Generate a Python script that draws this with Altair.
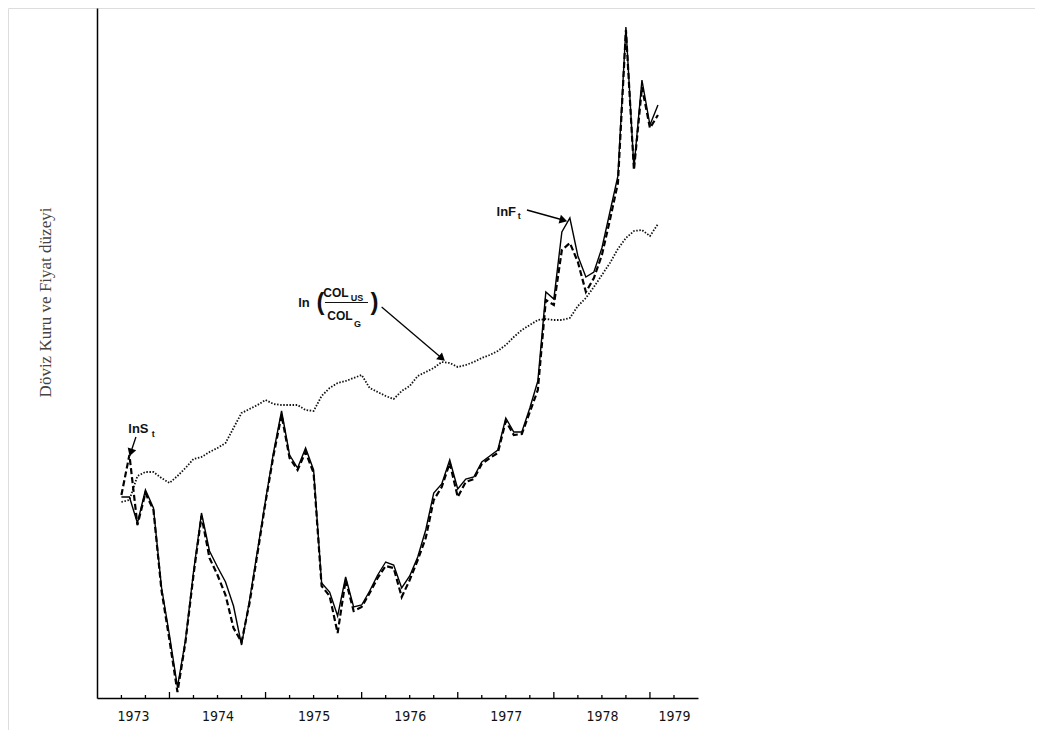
import altair as alt
import pandas as pd

# ---------------- data (monthly, from mid-1973) ----------------
start_year = 1973.5
n_months = 68

# ln F_t  (forward rate, solid line) - arbitrary log units
ln_f = [20.1, 20.1, 17.5, 20.8, 19.0, 11.1, 6.3, 1.1, 5.8, 12.6,
        18.5, 14.7, 13.1, 11.6, 9.2, 5.3, 9.8, 14.8, 19.8, 24.6,
        28.7, 24.3, 23.0, 25.0, 22.8, 11.5, 10.6, 8.2, 12.1, 9.1,
        9.3, 10.7, 12.3, 13.6, 13.3, 11.0, 12.2, 14.1, 16.8, 20.5,
        21.4, 23.8, 20.9, 21.9, 22.1, 23.6, 24.2, 24.8, 28.0, 26.6,
        26.6, 29.0, 31.7, 40.6, 39.9, 46.6, 48.0, 44.2, 42.1, 42.6,
        45.0, 48.6, 52.2, 67.1, 53.0, 61.8, 57.3, 59.3]

# ln S_t  (spot rate, dashed line)
ln_s = [20.3, 24.3, 17.3, 20.5, 18.8, 10.8, 5.8, 0.6, 5.6, 12.3,
        18.2, 14.0, 12.3, 10.3, 7.0, 5.6, 9.5, 14.5, 19.6, 24.3,
        28.3, 24.0, 22.8, 24.6, 22.5, 11.2, 10.2, 6.5, 11.8, 8.7,
        9.1, 10.5, 12.0, 13.2, 13.0, 10.1, 11.8, 13.8, 16.0, 19.8,
        21.1, 23.5, 20.1, 21.6, 21.9, 23.4, 24.0, 24.5, 27.7, 26.3,
        26.4, 28.6, 30.8, 39.8, 39.3, 44.8, 45.5, 43.6, 40.6, 42.0,
        44.3, 47.8, 51.5, 66.8, 52.8, 61.1, 57.0, 58.3]

# ln(COL_US / COL_G)  (dotted line)
col_ratio = [19.6, 19.8, 22.2, 22.6, 22.6, 22.0, 21.5, 22.2, 23.0, 23.9,
             24.1, 24.6, 25.0, 25.5, 27.0, 28.5, 28.9, 29.3, 29.8, 29.4,
             29.3, 29.3, 29.3, 28.8, 28.7, 30.2, 31.0, 31.5, 31.7, 32.0,
             32.3, 31.0, 30.6, 30.2, 29.9, 30.7, 31.2, 32.2, 32.6, 33.0,
             33.6, 33.5, 33.1, 33.3, 33.6, 34.0, 34.3, 34.7, 35.3, 36.1,
             36.8, 37.3, 37.8, 37.9, 37.8, 37.8, 38.0, 39.2, 40.0, 41.1,
             42.3, 43.5, 44.9, 46.0, 46.7, 46.8, 46.2, 47.4]

# axis: year labels placed in the middle of each visible year span
year_label_pos = [1973.62, 1974.5, 1975.5, 1976.5, 1977.5, 1978.5, 1979.25]
major_ticks = [1974, 1975, 1976, 1977, 1978, 1979]
minor_ticks = [1973.5, 1973.75] + [y + q for y in range(1974, 1979) for q in (0.25, 0.5, 0.75)] + [1979.25]

# annotations
ann_text = ["lnS", "t", "lnF", "t", "ln", "(", ")", "COL", "US", "COL", "G"]
ann_t = [1973.677, 1973.832, 1977.505, 1977.640, 1975.400, 1975.571, 1976.133,
         1975.733, 1975.951, 1975.774, 1975.956]
ann_v = [26.5, 26.1, 48.2, 47.9, 39.1, 38.8, 38.8, 40.1, 39.75, 37.8, 37.1]
ann_size = [13, 9, 13, 9, 13, 24, 24, 12, 9, 12, 9]

arrow_t1 = [1973.651, 1977.720, 1976.208]
arrow_v1 = [26.1, 48.8, 39.1]
arrow_t2 = [1973.599, 1978.095, 1976.832]
arrow_v2 = [24.6, 47.8, 34.0]
arrow_angle = [198, 105, 131]

frac_t1, frac_t2, frac_v = 1975.618, 1976.066, 39.55

# ---------------- tables ----------------
t = [start_year + m / 12 for m in range(n_months)]
df = pd.DataFrame({"t": t, "F": ln_f, "S": ln_s, "COL": col_ratio})
ticks_df = pd.DataFrame({
    "t": major_ticks + minor_ticks,
    "v0": [0.0] * (len(major_ticks) + len(minor_ticks)),
    "v1": [0.6] * len(major_ticks) + [0.3] * len(minor_ticks),
})
ann_df = pd.DataFrame({"label": ann_text, "t": ann_t, "v": ann_v, "fs": ann_size})
arrow_df = pd.DataFrame({"t1": arrow_t1, "v1": arrow_v1, "t2": arrow_t2, "v2": arrow_v2, "ang": arrow_angle})
frac_df = pd.DataFrame({"t1": [frac_t1], "t2": [frac_t2], "v": [frac_v]})

W, H = 1027, 722
XS = alt.Scale(domain=[1973.246, 1979.5], range=[89, 690], nice=False, zero=False)
YS = alt.Scale(domain=[0, 69], range=[690, 0], nice=False, zero=False)

x_axis = alt.Axis(values=year_label_pos, labelExpr="toString(floor(datum.value))",
                  ticks=False, domainColor="#000", domainWidth=1.5,
                  labelFont="Liberation Sans Narrow, DejaVu Sans Condensed, sans-serif",
                  labelFontSize=14, labelColor="#111", labelPadding=18,
                  labelBaseline="middle", labelFlush=False, labelOverlap=False,
                  offset=-(H - 690), grid=False, title=None)
y_axis = alt.Axis(ticks=False, labels=False, domainColor="#000", domainWidth=1.5,
                  grid=False, title="Döviz Kuru ve Fiyat düzeyi",
                  titleFont="Liberation Serif", titleFontSize=17, titleFontWeight="normal",
                  titleColor="#444", titleX=-52, titleY=294, titleAngle=270,
                  titleAlign="center", titleBaseline="middle", offset=-89)


def X(field):
    return alt.X(field, scale=XS, axis=x_axis)


def Y(field):
    return alt.Y(field, scale=YS, axis=y_axis)


line_f = alt.Chart(df).mark_line(color="#000", strokeWidth=1.4).encode(
    x=X("t:Q"), y=Y("F:Q"))
line_s = alt.Chart(df).mark_line(color="#000", strokeWidth=2.2, strokeDash=[6, 3]).encode(
    x=X("t:Q"), y=Y("S:Q"))
line_col = alt.Chart(df).mark_line(color="#111", strokeWidth=1.8, strokeDash=[1.5, 1.6]).encode(
    x=X("t:Q"), y=Y("COL:Q"))
tick_rules = alt.Chart(ticks_df).mark_rule(color="#000", strokeWidth=1.3).encode(
    x=X("t:Q"), y=Y("v0:Q"), y2="v1:Q")
texts = alt.Chart(ann_df).mark_text(font="Liberation Sans", color="#111", fontWeight="bold",
                                    align="center", baseline="alphabetic").encode(
    x=X("t:Q"), y=Y("v:Q"), text="label:N", size=alt.Size("fs:Q", scale=None))
arrows = alt.Chart(arrow_df).mark_rule(color="#000", strokeWidth=1.3).encode(
    x=X("t1:Q"), x2="t2:Q", y=Y("v1:Q"), y2="v2:Q")
heads = alt.Chart(arrow_df).mark_point(shape="triangle-up", filled=True, fill="#000",
                                       stroke="#000", opacity=1, size=30).encode(
    x=X("t2:Q"), y=Y("v2:Q"), angle=alt.Angle("ang:Q", scale=None))
frac = alt.Chart(frac_df).mark_rule(color="#111", strokeWidth=1.2).encode(
    x=X("t1:Q"), x2="t2:Q", y=Y("v:Q"))

chart = alt.layer(line_col, line_s, line_f, tick_rules, arrows, heads, frac, texts).properties(
    width=W, height=H, padding=0,
    autosize=alt.AutoSizeParams(type="none"),
).configure_view(stroke="#222", strokeWidth=1).configure(background="white")

chart.save("out.html", embed_options={"renderer": "svg", "actions": False})
